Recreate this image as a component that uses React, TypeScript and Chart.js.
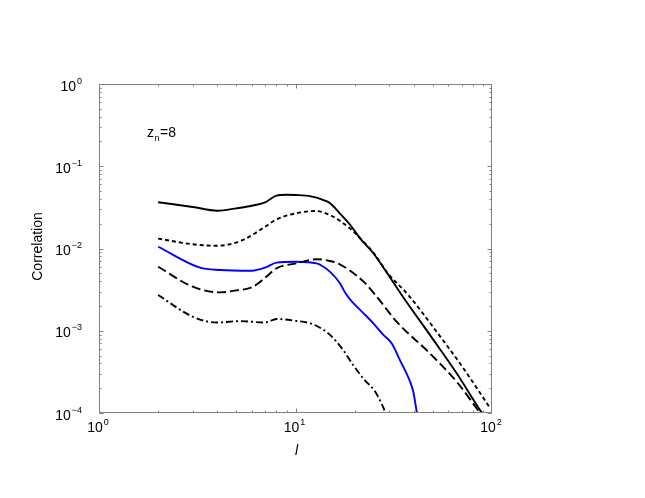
import { useEffect, useRef } from "react";
import { Chart, registerables } from "chart.js";

Chart.register(...registerables);

// ---- data (log-log) ----
const solidX = [2, 3, 4, 5, 6, 7, 8, 9, 10, 12, 14, 15, 17, 19, 21.3, 24.9, 29.7, 34.7, 48.3, 66.1, 88, 92];
const solidY = [0.0365, 0.032, 0.0288, 0.0308, 0.0331, 0.0365, 0.0439, 0.045, 0.0447, 0.043, 0.0385, 0.0355, 0.026, 0.0193, 0.0133, 0.00875, 0.00476, 0.00272, 0.00089, 0.000304, 0.000104, 0.00009];

const shortDashX = [2, 3, 4, 5.4, 7, 8, 10.1, 12.6, 15, 18.9, 22.2, 25, 29.7, 37.5, 52.3, 71.5, 98];
const shortDashY = [0.0132, 0.01125, 0.0108, 0.0127, 0.0184, 0.0226, 0.0268, 0.0286, 0.0255, 0.0176, 0.0121, 0.0088, 0.0049, 0.00272, 0.00097, 0.00035, 0.000114];

const longDashX = [2, 3, 4.13, 5, 6, 7, 8, 10.1, 12.8, 15, 16.8, 18.9, 22.2, 25.9, 32.7, 48.3, 66.1, 87, 90];
const longDashY = [0.006, 0.00343, 0.00293, 0.0031, 0.00337, 0.0044, 0.00574, 0.0066, 0.0074, 0.00705, 0.0064, 0.0054, 0.00395, 0.0026, 0.00129, 0.00053, 0.00024, 0.0001, 0.00009];

const blueX = [2, 3.27, 4.13, 6, 7, 8, 10.1, 12.8, 15, 16.8, 17.9, 18.9, 20.1, 22.2, 24.9, 28, 30.9, 34, 38.3, 39.8, 41.4, 42.5];
const blueY = [0.0105, 0.00585, 0.00548, 0.00537, 0.00585, 0.00673, 0.00691, 0.0066, 0.0052, 0.0038, 0.0029, 0.00243, 0.00206, 0.00163, 0.00123, 0.00089, 0.0007, 0.00044, 0.00024, 0.00018, 0.000104, 0.00008];

const dashDotX = [2, 3, 4, 5.2, 7, 8, 10, 11.9, 13.5, 15, 17.5, 19.7, 22.2, 25.5, 27.4, 28.5, 29];
const dashDotY = [0.00272, 0.00148, 0.00126, 0.00131, 0.00126, 0.00139, 0.00132, 0.00123, 0.00107, 0.00089, 0.00058, 0.00038, 0.00026, 0.00018, 0.00013, 0.000104, 0.00009];

const xTickExponents = [0, 1, 2];
const yTickExponents = [0, -1, -2, -3, -4];
const xTitle = "l";
const yTitle = "Correlation";
const noteMain = "z";
const noteSub = "n";
const noteRest = "=8";

const FONT = '"Liberation Sans", Arial, Helvetica, sans-serif';
const FRAME = "#808080";

function pts(xs: number[], ys: number[]) {
  return xs.map((x, i) => ({ x, y: ys[i] }));
}

function expText(e: number) {
  return e < 0 ? "\u2212" + String(-e) : String(e);
}

const decorPlugin = {
  id: "decor",
  afterDraw(chart: any) {
    const { ctx, chartArea: a, scales } = chart;
    const xs = scales.x;
    const ys = scales.y;
    ctx.save();
    // frame
    ctx.strokeStyle = FRAME;
    ctx.lineWidth = 1;
    const L = Math.round(a.left) + 0.5;
    const T = Math.round(a.top) + 0.5;
    const R = Math.round(a.right) - 0.5;
    const B = Math.round(a.bottom) - 0.5;
    ctx.strokeRect(L, T, R - L, B - T);
    // ticks (inside, mirrored)
    ctx.beginPath();
    for (let e = 0; e < 2; e++) {
      for (let k = 1; k <= 9; k++) {
        const v = k * Math.pow(10, e);
        const px = Math.round(xs.getPixelForValue(v)) + 0.5;
        const len = k === 1 ? 4 : 2;
        ctx.moveTo(px, B);
        ctx.lineTo(px, B - len);
        ctx.moveTo(px, T);
        ctx.lineTo(px, T + len);
      }
    }
    for (let e = -4; e < 0; e++) {
      for (let k = 1; k <= 9; k++) {
        const v = k * Math.pow(10, e);
        const py = Math.round(ys.getPixelForValue(v)) + 0.5;
        const len = k === 1 ? 4 : 2;
        ctx.moveTo(L, py);
        ctx.lineTo(L + len, py);
        ctx.moveTo(R, py);
        ctx.lineTo(R - len, py);
      }
    }
    ctx.stroke();

    // tick labels
    ctx.fillStyle = "#000";
    ctx.textBaseline = "alphabetic";
    ctx.textAlign = "left";
    const bigFont = `14px ${FONT}`;
    const smallFont = `9px ${FONT}`;
    for (const e of xTickExponents) {
      const px = xs.getPixelForValue(Math.pow(10, e));
      ctx.font = bigFont;
      const w1 = ctx.measureText("10").width;
      ctx.font = smallFont;
      const t2 = expText(e);
      const w2 = ctx.measureText(t2).width;
      const total = w1 + 1 + w2;
      const left = px - total / 2 - 1;
      const base = a.bottom + 19;
      ctx.font = bigFont;
      ctx.fillText("10", left, base);
      ctx.font = smallFont;
      ctx.fillText(t2, left + w1 + 1, base - 7);
    }
    for (const e of yTickExponents) {
      const py = ys.getPixelForValue(Math.pow(10, e));
      ctx.font = smallFont;
      const t2 = expText(e);
      const w2 = ctx.measureText(t2).width;
      ctx.font = bigFont;
      const w1 = ctx.measureText("10").width;
      const right = a.left - 17;
      const base = py + 6.5;
      ctx.fillText("10", right - w2 - 1 - w1, base);
      ctx.font = smallFont;
      ctx.fillText(t2, right - w2, base - 7);
    }

    // axis titles
    ctx.font = `italic 14px ${FONT}`;
    ctx.textAlign = "center";
    ctx.fillText(xTitle, (a.left + a.right) / 2 + 1, a.bottom + 42);

    ctx.save();
    ctx.translate(38, (a.top + a.bottom) / 2 - 2);
    ctx.rotate(-Math.PI / 2);
    ctx.font = `14px ${FONT}`;
    ctx.textBaseline = "middle";
    ctx.fillText(yTitle, 0, 0);
    ctx.restore();

    // annotation z_n=8
    ctx.textAlign = "left";
    ctx.textBaseline = "alphabetic";
    let nx = 147;
    ctx.font = `14px ${FONT}`;
    ctx.fillText(noteMain, nx, 137);
    nx += ctx.measureText(noteMain).width + 0.5;
    ctx.font = `9px ${FONT}`;
    ctx.fillText(noteSub, nx, 141);
    nx += ctx.measureText(noteSub).width + 0.5;
    ctx.font = `14px ${FONT}`;
    ctx.fillText(noteRest, nx, 137);

    ctx.restore();
  },
};

export default function App() {
  const ref = useRef<HTMLCanvasElement | null>(null);
  useEffect(() => {
    if (!ref.current) return;
    const common = {
      fill: false,
      pointRadius: 0,
      borderWidth: 1.9,
      cubicInterpolationMode: "monotone" as const,
      borderJoinStyle: "round" as const,
    };
    const chart = new Chart(ref.current, {
      type: "line",
      data: {
        datasets: [
          { ...common, data: pts(solidX, solidY), borderColor: "#000000" },
          { ...common, data: pts(shortDashX, shortDashY), borderColor: "#000000", borderDash: [4, 3] },
          { ...common, data: pts(longDashX, longDashY), borderColor: "#000000", borderDash: [9, 4] },
          { ...common, data: pts(blueX, blueY), borderColor: "#0000ff" },
          { ...common, data: pts(dashDotX, dashDotY), borderColor: "#000000", borderDash: [7, 3, 2, 3] },
        ],
      },
      options: {
        responsive: false,
        animation: false,
        parsing: true,
        layout: { padding: { left: 99, top: 84, right: 153, bottom: 85 } },
        plugins: { legend: { display: false }, tooltip: { enabled: false } },
        scales: {
          x: { type: "logarithmic", min: 1, max: 100, display: false },
          y: { type: "logarithmic", min: 1e-4, max: 1, display: false },
        },
      },
      plugins: [decorPlugin],
    });
    return () => chart.destroy();
  }, []);
  return (
    <div style={{ position: "fixed", left: 0, top: 0, width: 645, height: 498, background: "#fff" }}>
      <canvas ref={ref} width={645} height={498} />
    </div>
  );
}
